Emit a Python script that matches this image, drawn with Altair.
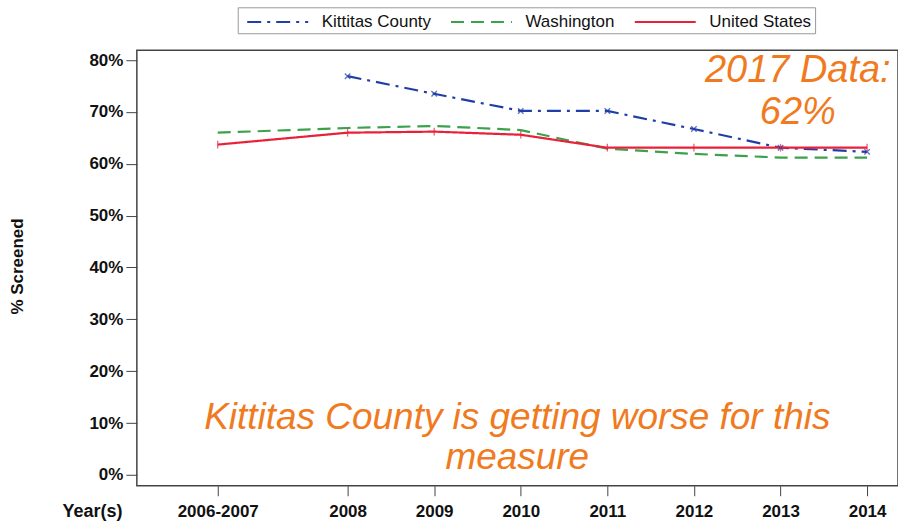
import altair as alt
import pandas as pd

# ---- data ----
year_pos = [2006.5, 2008, 2009, 2010, 2011, 2012, 2013, 2014]
year_labels = ["2006-2007", "2008", "2009", "2010", "2011", "2012", "2013", "2014"]

kittitas = [None, 76.9, 73.5, 70.2, 70.2, 66.7, 63.1, 62.3]
washington = [66.0, 66.9, 67.3, 66.5, 62.9, 61.9, 61.2, 61.2]
united_states = [63.7, 66.0, 66.2, 65.6, 63.1, 63.1, 63.1, 63.1]

series_names = ["Kittitas County", "Washington", "United States"]
series_colors = ["#1f3fa6", "#3aa24a", "#e8203a"]
series_dash = [[14, 6, 3, 6], [13, 7], [1, 0]]

note_top = ["2017 Data:", "62%"]
note_top_x = [2013.2, 2013.2]
note_top_y = [77.9, 69.8]
note_bottom = ["Kittitas County is getting worse for this", "measure"]
note_bottom_x = [2009.96, 2009.96]
note_bottom_y = [11.0, 3.3]

rows = []
for name, vals in zip(series_names, [kittitas, washington, united_states]):
    for x, v in zip(year_pos, vals):
        if v is not None:
            rows.append({"year": x, "pct": v, "series": name})
df = pd.DataFrame(rows)

x_scale = alt.Scale(domain=[2005.566, 2014.357], nice=False, zero=False)
y_scale = alt.Scale(domain=[-2.1, 81.9], nice=False, zero=False)

label_expr = "datum.value == 2006.5 ? '2006-2007' : format(datum.value, 'd')"

x_axis = alt.Axis(
    values=year_pos, labelExpr=label_expr, grid=False, domain=False,
    tickSize=10, tickColor="#444", labelPadding=8, labelFontSize=17,
    labelFontWeight="bold", labelFont="Liberation Sans", labelColor="#111",
    title="Year(s)", titleFont="Liberation Sans", titleFontSize=18,
    titleFontWeight="bold", titleX=-45, titleY=26, titleAlign="center",
    titleBaseline="middle", titleColor="#111",
)
y_axis = alt.Axis(
    values=list(range(0, 81, 10)), labelExpr="datum.value + '%'", grid=False,
    domain=False, tickSize=11, tickColor="#444", labelPadding=3,
    labelFontSize=17, labelFontWeight="bold", labelFont="Liberation Sans",
    labelColor="#111", title="% Screened", titleFont="Liberation Sans",
    titleFontSize=17, titleFontWeight="bold", titleX=-119, titleY=216,
    titleAngle=270, titleAlign="center", titleBaseline="middle", titleColor="#111",
)

color_scale = alt.Scale(domain=series_names, range=series_colors)
dash_scale = alt.Scale(domain=series_names, range=series_dash)

legend = alt.Legend(
    title=None, orient="none", legendX=101, legendY=-43, direction="horizontal",
    symbolType="M-0.5,0H5.6", symbolSize=400, symbolStrokeWidth=2.2,
    labelFont="Liberation Sans", labelFontSize=17, labelColor="#111",
    labelOffset=58, columnPadding=13, strokeColor="#999", fillColor="white",
    padding=3,
)

base = alt.Chart(df)

lines = base.mark_line(strokeWidth=2.2).encode(
    x=alt.X("year:Q", scale=x_scale, axis=x_axis),
    y=alt.Y("pct:Q", scale=y_scale, axis=y_axis),
    color=alt.Color("series:N", scale=color_scale, legend=legend, sort=series_names),
    strokeDash=alt.StrokeDash("series:N", scale=dash_scale, legend=legend, sort=series_names),
    detail="series:N",
)

k_points = base.transform_filter(alt.datum.series == "Kittitas County").mark_point(
    shape="M-1,-1L1,1M-1,1L1,-1", size=30, strokeWidth=1.4
).encode(
    x=alt.X("year:Q", scale=x_scale),
    y=alt.Y("pct:Q", scale=y_scale),
    color=alt.Color("series:N", scale=color_scale, legend=None),
)

us_points = base.transform_filter(alt.datum.series == "United States").mark_point(
    shape="stroke", size=60, strokeWidth=1.3, angle=90
).encode(
    x=alt.X("year:Q", scale=x_scale),
    y=alt.Y("pct:Q", scale=y_scale),
    color=alt.Color("series:N", scale=color_scale, legend=None),
)

top_df = pd.DataFrame({"x": note_top_x, "y": note_top_y, "t": note_top})
bot_df = pd.DataFrame({"x": note_bottom_x, "y": note_bottom_y, "t": note_bottom})

top_text = alt.Chart(top_df).mark_text(
    font="Liberation Sans", fontStyle="italic", fontSize=38, color="#f07a1e",
    align="center", baseline="middle",
).encode(x=alt.X("x:Q", scale=x_scale), y=alt.Y("y:Q", scale=y_scale), text="t:N")

bot_text = alt.Chart(bot_df).mark_text(
    font="Liberation Sans", fontStyle="italic", fontSize=37, color="#f07a1e",
    align="center", baseline="middle",
).encode(x=alt.X("x:Q", scale=x_scale), y=alt.Y("y:Q", scale=y_scale), text="t:N")

chart = alt.layer(lines, k_points, us_points, top_text, bot_text).properties(
    width=762, height=436,
    autosize=alt.AutoSizeParams(type="none"),
    padding={"left": 137, "top": 50, "right": 0, "bottom": 45},
    background="white",
).configure_view(stroke="#444", strokeWidth=1.5)

chart.save("out.html", embed_options={"renderer": "svg", "actions": False})
